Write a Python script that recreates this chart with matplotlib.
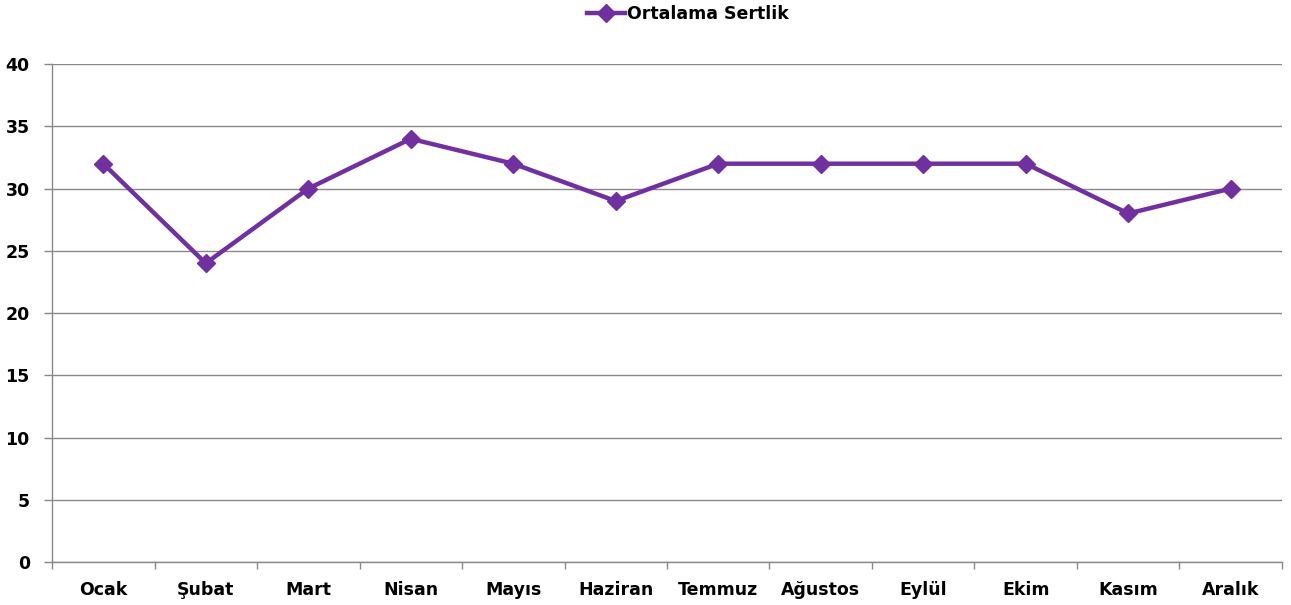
import matplotlib
matplotlib.use("Agg")
import matplotlib.pyplot as plt
from matplotlib.lines import Line2D

months = ["Ocak", "Şubat", "Mart", "Nisan", "Mayıs", "Haziran",
          "Temmuz", "Ağustos", "Eylül", "Ekim", "Kasım", "Aralık"]
hardness = [32, 24, 30, 34, 32, 29, 32, 32, 32, 32, 28, 30]
y_ticks = [0, 5, 10, 15, 20, 25, 30, 35, 40]
series_name = "Ortalama Sertlik"

purple = "#7030A0"
plt.rcParams["font.family"] = ["DejaVu Sans"]

fig = plt.figure(figsize=(12.91, 6.05), dpi=100)
ax = fig.add_axes([0.0403, 0.0711, 0.9527, 0.8229])

x = list(range(len(months)))
ax.plot(x, hardness, color=purple, lw=3.2, marker="D", markersize=9,
        markerfacecolor=purple, markeredgecolor=purple, solid_joinstyle="miter")

ax.set_xlim(-0.5, len(months) - 0.5)
ax.set_ylim(0, 40)
ax.set_yticks(y_ticks)
ax.set_yticklabels([str(v) for v in y_ticks], fontsize=12.5, fontweight="bold")
ax.set_xticks(x)
ax.set_xticklabels(months, fontsize=12.5, fontweight="bold")
ax.tick_params(axis="x", length=0, pad=14)
ax.set_xticks([i - 0.5 for i in range(len(months) + 1)], minor=True)
ax.tick_params(axis="x", which="minor", length=5, color="#888888", width=1)
ax.tick_params(axis="y", length=6, color="#888888", width=1, pad=10)

ax.yaxis.grid(True, color="#888888", lw=1)
ax.set_axisbelow(True)
for side in ("top", "right"):
    ax.spines[side].set_visible(False)
for side in ("left", "bottom"):
    ax.spines[side].set_color("#888888")
    ax.spines[side].set_linewidth(1)

handle = Line2D([], [], color=purple, lw=3.2, marker="D", markersize=9)
fig.legend([handle], [series_name], loc="upper center", bbox_to_anchor=(0.533, 1.018),
           frameon=False, prop={"size": 12.5, "weight": "bold"},
           handlelength=2.2, handletextpad=0.1)

fig.savefig("out.png", dpi=100)
